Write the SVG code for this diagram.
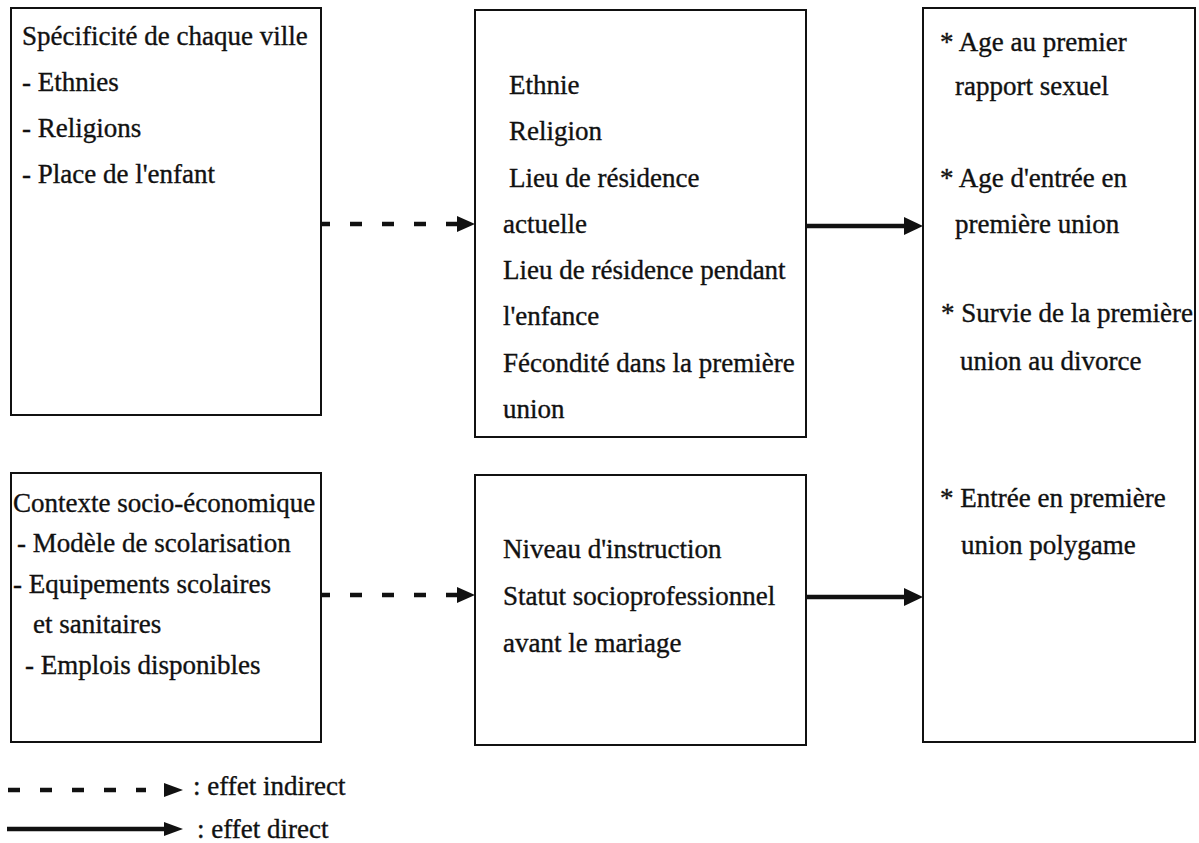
<svg xmlns="http://www.w3.org/2000/svg" width="1199" height="843" viewBox="0 0 1199 843">
<style>
.box{fill:#fff;stroke:#111;stroke-width:2}
text{font-family:'Liberation Serif','DejaVu Serif',serif;font-size:27px;fill:#111;stroke:#111;stroke-width:0.35}
.solid{stroke:#111;stroke-width:4.5;fill:none}
.dash{stroke:#111;stroke-width:4.5;fill:none;stroke-dasharray:12 20}
.head{fill:#111}
</style>
<rect width="1199" height="843" fill="#fff"/>
<g id="box-specificite">
<rect class="box" x="11" y="8" width="310" height="407"/>
<text x="22" y="45">Spécificité de chaque ville</text>
<text x="22" y="91">- Ethnies</text>
<text x="22" y="137">- Religions</text>
<text x="22" y="183">- Place de l'enfant</text>
</g>
<g id="box-individuel">
<rect class="box" x="475" y="10" width="331" height="427"/>
<text x="509" y="94">Ethnie</text>
<text x="509" y="140">Religion</text>
<text x="509" y="187">Lieu de résidence</text>
<text x="503" y="233">actuelle</text>
<text x="503" y="279">Lieu de résidence pendant</text>
<text x="503" y="325">l'enfance</text>
<text x="503" y="372">Fécondité dans la première</text>
<text x="503" y="418">union</text>
</g>
<g id="box-resultats">
<rect class="box" x="923" y="8" width="272" height="734"/>
<text x="940" y="51">* Age au premier</text>
<text x="955" y="95">rapport sexuel</text>
<text x="940" y="187">* Age d'entrée en</text>
<text x="955" y="233">première union</text>
<text x="941" y="322">* Survie de la première</text>
<text x="960" y="370">union au divorce</text>
<text x="940" y="507">* Entrée en première</text>
<text x="961" y="554">union polygame</text>
</g>
<g id="box-contexte">
<rect class="box" x="11" y="473" width="310" height="269"/>
<text x="13" y="512">Contexte socio-économique</text>
<text x="17" y="552">- Modèle de scolarisation</text>
<text x="13" y="593">- Equipements scolaires</text>
<text x="33" y="633">et sanitaires</text>
<text x="25" y="674">- Emplois disponibles</text>
</g>
<g id="box-instruction">
<rect class="box" x="475" y="475" width="331" height="270"/>
<text x="503" y="558">Niveau d'instruction</text>
<text x="503" y="605">Statut socioprofessionnel</text>
<text x="503" y="652">avant le mariage</text>
</g>
<g id="connectors">
<line class="dash" x1="322" y1="224" x2="458" y2="224" stroke-dashoffset="4"/>
<polygon class="head" points="457,216 475,224 457,232"/>
<line class="solid" x1="806" y1="226" x2="906" y2="226"/>
<polygon class="head" points="904,217 923,226 904,235"/>
<line class="dash" x1="322" y1="595" x2="458" y2="595" stroke-dashoffset="4"/>
<polygon class="head" points="457,587 475,595 457,603"/>
<line class="solid" x1="806" y1="597" x2="906" y2="597"/>
<polygon class="head" points="904,588 923,597 904,606"/>
</g>
<g id="legend">
<line class="dash" x1="8" y1="790" x2="146" y2="790"/>
<polygon class="head" points="164,783 183,790 164,797"/>
<text x="193" y="795">: effet indirect</text>
<line class="solid" x1="7" y1="829" x2="168" y2="829"/>
<polygon class="head" points="164,822 183,829 164,836"/>
<text x="197" y="838">:  effet direct</text>
</g>
</svg>
